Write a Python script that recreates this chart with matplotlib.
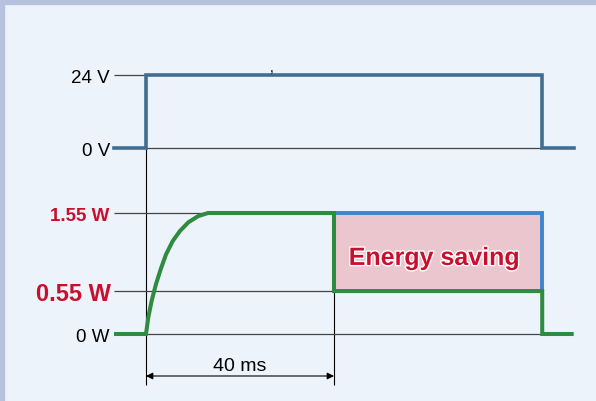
import matplotlib
matplotlib.use("Agg")
import matplotlib.pyplot as plt
import matplotlib.patheffects as pe
from matplotlib.patches import Rectangle

plt.rcParams['font.family'] = ['Liberation Sans', 'DejaVu Sans']

# time in ms, 0 = coil switched on
t_start, t_on, t_reduce, t_off, t_end = -6.8, 0.0, 40.0, 84.3, 91.0

# supply voltage
v_time = [t_start, t_on, t_on, t_off, t_off, t_end]
v_level = [0, 0, 24, 24, 0, 0]

# coil power rise
rise_t = [0, 0.49, 1.21, 2.13, 3.13, 4.26, 5.68, 7.23, 9.0, 11.1, 13.2]
rise_p = [0, 0.214, 0.427, 0.64, 0.83, 1.02, 1.19, 1.32, 1.43, 1.51, 1.55]

p_full, p_hold = 1.55, 0.55
p_time = [t_start] + rise_t + [t_reduce, t_reduce, t_off, t_off, t_end]
p_level = [0] + rise_p + [p_full, p_hold, p_hold, 0, 0]

v_labels = ["24 V", "0 V"]
v_ticks = [24, 0]
p_labels = ["1.55 W", "0.55 W", "0 W"]
p_ticks = [p_full, p_hold, 0]

bg = '#ECF3FB'
blue = '#426D91'
green = '#2E8B3F'
red = '#C8102E'
grey = '#444444'

W, H = 596, 402
fig = plt.figure(figsize=(W / 100, H / 100), dpi=100, facecolor=bg)

# frame strips
fig.patches.append(Rectangle((0, 1 - 5 / H), 1, 5 / H, transform=fig.transFigure,
                             color='#B6C2DE', zorder=0))
fig.patches.append(Rectangle((0, 0), 4 / W, 1, transform=fig.transFigure,
                             color='#B6C2DE', zorder=0))

px_ms = 4.7  # pixels per ms
x0 = 146
xlim = ((0 - x0) / px_ms, (W - x0) / px_ms)

# voltage axes: 24 V at y=76 px, 0 V at y=149 px
ax_v = fig.add_axes([0, 0, 1, 1])
pv = 73 / 24
ax_v.set_xlim(*xlim)
ax_v.set_ylim(-(H - 149) / pv, 149 / pv)
ax_v.axis('off')

# power axes: 1.55 W at y=214 px, 0 W at y=335 px
ax_p = fig.add_axes([0, 0, 1, 1])
pp = 121 / 1.55
ax_p.set_xlim(*xlim)
ax_p.set_ylim(-(H - 335) / pp, 335 / pp)
ax_p.axis('off')


def label(ax, x, y, s, size, ha='right', **kw):
    # baseline placed so that the capitals are centred on y
    return ax.annotate(s, (x, y), xytext=(0, -0.36 * size), textcoords='offset points',
                       ha=ha, va='baseline', fontsize=size, **kw)


lab_x = -7.7
tick_l = t_start

# voltage part
ax_v.hlines(24, tick_l, t_on, color=grey, lw=0.9)
ax_v.hlines(0, t_on, t_off, color=grey, lw=0.9)
ax_v.plot(v_time, v_level, color=blue, lw=2.6, solid_joinstyle='miter', zorder=3)
for lab, val in zip(v_labels, v_ticks):
    label(ax_v, lab_x, val, lab, 13.5, color='black')
ax_v.text(26.8, 26.6, ",", fontsize=10, ha='center', va='center')

# vertical reference lines
ax_v.vlines(t_on, -(386 - 149) / pv, 24, color='black', lw=0.8)
ax_p.vlines(t_reduce, -(386 - 335) / pp, p_full, color='black', lw=0.8)

# power part
ax_p.hlines([p_full, p_hold], tick_l, t_reduce, color=grey, lw=0.9)
ax_p.hlines(0, t_on, t_off, color=grey, lw=0.9)
ax_p.add_patch(Rectangle((t_reduce, p_hold), t_off - t_reduce, p_full - p_hold,
                         facecolor='#EBC6CE', edgecolor='none', zorder=1))
ax_p.plot([t_reduce, t_off, t_off], [p_full, p_full, p_hold], color='#3F86C8', lw=2.8,
          solid_joinstyle='miter', zorder=2)
ax_p.plot(p_time, p_level, color=green, lw=2.9, solid_joinstyle='miter',
          solid_capstyle='butt', zorder=3)

label(ax_p, lab_x, p_ticks[0], p_labels[0], 13.5, fontweight='bold', color=red)
label(ax_p, lab_x + 0.3, p_ticks[1], p_labels[1], 17, fontweight='bold', color=red)
label(ax_p, lab_x, p_ticks[2], p_labels[2], 13.5, color='black')

label(ax_p, 61.3, 1.0, "Energy saving", 18, ha='center', fontweight='bold', color=red,
      path_effects=[pe.withStroke(linewidth=2, foreground='white')], zorder=4)

# 40 ms dimension
arr_y = -(377 - 335) / pp
ax_p.annotate("", xy=(t_on, arr_y), xytext=(t_reduce, arr_y),
              arrowprops=dict(arrowstyle='<|-|>', color='black', lw=0.8,
                              mutation_scale=10, shrinkA=0, shrinkB=0))
label(ax_p, (t_on + t_reduce) / 2, -(364 - 335) / pp, "40 ms", 14, ha='center')

fig.savefig("out.png", dpi=100, facecolor=bg)
